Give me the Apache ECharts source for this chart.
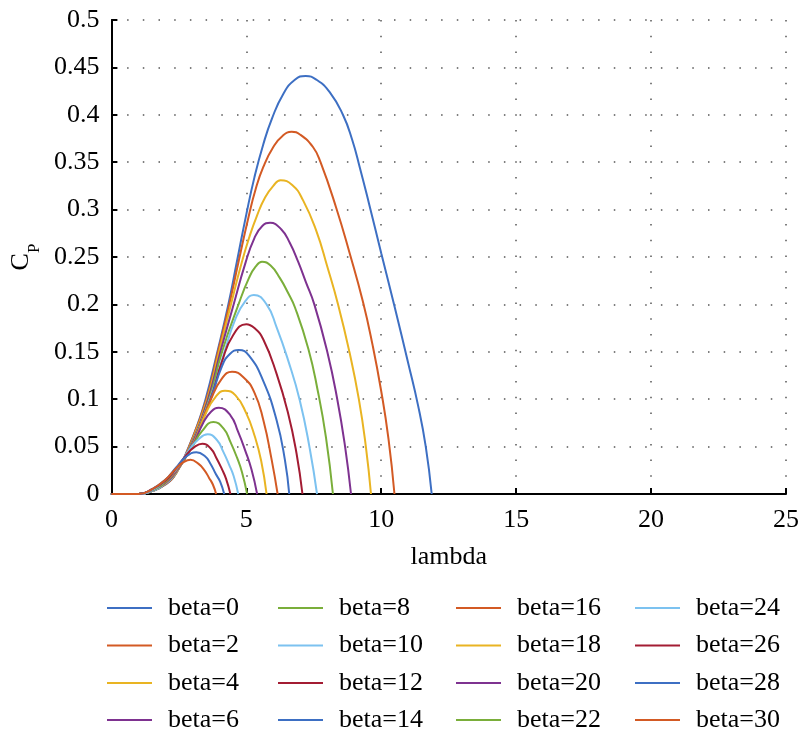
<!DOCTYPE html>
<html lang="en">
<head>
  <meta charset="UTF-8">
  <title>Cp - lambda</title>
  <script src="https://cdn.jsdelivr.net/npm/echarts@6/dist/echarts.min.js"></script>
  <style>
    html, body { margin: 0; padding: 0; background: #fff; }
    #chart { width: 802px; height: 731px; }
  </style>
</head>
<body>
  <div id="chart"></div>
<script>
  // [lambda, Cp], one list per pitch angle
  const b0 = [[0,0],[1.0,0],[1.5,0.003],[2.0,0.01],[2.4,0.022],[2.87,0.05],[3.2,0.074],[3.49,0.1],[3.91,0.148],[4.32,0.198],[4.65,0.245],[5.0,0.295],[5.3,0.334],[5.63,0.369],[5.95,0.396],[6.37,0.422],[6.8,0.437],[7.2,0.441],[7.6,0.437],[8.09,0.424],[8.58,0.4],[8.92,0.374],[9.21,0.344],[9.55,0.306],[10.0,0.254],[10.5,0.197],[11.0,0.138],[11.36,0.094],[11.65,0.05],[11.87,0]]
  const b2 = [[0,0],[1.0,0],[1.5,0.003],[2.0,0.01],[2.4,0.022],[2.88,0.05],[3.52,0.1],[3.95,0.15],[4.37,0.2],[4.72,0.246],[5.08,0.292],[5.35,0.322],[5.63,0.345],[6.0,0.366],[6.35,0.378],[6.68,0.382],[7.0,0.379],[7.47,0.366],[7.75,0.35],[8.33,0.302],[8.83,0.254],[9.32,0.203],[9.68,0.157],[9.99,0.11],[10.27,0.058],[10.49,0]]
  const b4 = [[0,0],[1.0,0],[1.5,0.003],[2.0,0.011],[2.4,0.022],[2.9,0.05],[3.55,0.1],[3.99,0.15],[4.43,0.2],[4.81,0.242],[5.1,0.27],[5.4,0.294],[5.7,0.313],[6.0,0.325],[6.27,0.331],[6.7,0.326],[7.1,0.31],[7.6,0.277],[8.0,0.24],[8.4,0.2],[8.82,0.15],[9.17,0.1],[9.43,0.05],[9.62,0]]
  const b6 = [[0,0],[1.0,0],[1.5,0.003],[2.0,0.011],[2.4,0.023],[2.92,0.05],[3.58,0.1],[4.04,0.15],[4.53,0.2],[4.96,0.243],[5.3,0.27],[5.6,0.283],[5.88,0.286],[6.3,0.279],[6.61,0.265],[6.92,0.245],[7.2,0.224],[7.52,0.2],[8.0,0.15],[8.37,0.1],[8.66,0.05],[8.88,0]]
  const b8 = [[0,0],[1.0,0],[1.5,0.003],[2.0,0.011],[2.4,0.023],[2.93,0.05],[3.62,0.1],[4.1,0.15],[4.71,0.2],[5.1,0.228],[5.35,0.24],[5.58,0.245],[5.9,0.241],[6.24,0.228],[6.55,0.212],[6.8,0.197],[7.3,0.153],[7.64,0.11],[7.95,0.06],[8.21,0]]
  const b10 = [[0,0],[1.0,0],[1.5,0.003],[2.0,0.011],[2.4,0.023],[2.94,0.05],[3.65,0.1],[4.19,0.15],[4.6,0.185],[4.95,0.203],[5.28,0.21],[5.75,0.2],[6.12,0.176],[6.55,0.141],[6.98,0.099],[7.35,0.048],[7.62,0]]
  const b12 = [[0,0],[1.0,0],[1.5,0.004],[2.0,0.012],[2.4,0.024],[2.95,0.05],[3.67,0.1],[4.1,0.14],[4.5,0.167],[5.0,0.179],[5.3,0.175],[5.63,0.163],[6.12,0.127],[6.55,0.085],[6.86,0.043],[7.08,0]]
  const b14 = [[0,0],[1.0,0],[1.5,0.004],[2.0,0.012],[2.4,0.024],[2.96,0.05],[3.68,0.1],[4.1,0.135],[4.4,0.148],[4.72,0.152],[5.1,0.146],[5.63,0.119],[6.12,0.078],[6.43,0.036],[6.59,0]]
  const b16 = [[0,0],[1.0,0],[1.5,0.004],[2.0,0.012],[2.4,0.024],[2.97,0.05],[3.69,0.1],[4.1,0.122],[4.47,0.129],[4.9,0.123],[5.3,0.107],[5.63,0.078],[5.94,0.036],[6.16,0]]
  const b18 = [[0,0],[1.0,0],[1.5,0.004],[2.0,0.013],[2.4,0.025],[2.98,0.05],[3.5,0.085],[3.85,0.102],[4.21,0.109],[4.6,0.104],[5.0,0.085],[5.3,0.062],[5.55,0.035],[5.75,0]]
  const b20 = [[0,0],[1.0,0],[1.5,0.004],[2.0,0.013],[2.4,0.025],[2.99,0.05],[3.4,0.075],[3.7,0.087],[3.98,0.091],[4.41,0.083],[4.69,0.066],[4.97,0.045],[5.19,0.026],[5.4,0]]
  const b22 = [[0,0],[1.0,0],[1.5,0.004],[2.0,0.013],[2.4,0.026],[3.0,0.05],[3.35,0.066],[3.78,0.076],[4.16,0.069],[4.41,0.055],[4.66,0.038],[4.84,0.023],[5.03,0]]
  const b24 = [[0,0],[1.0,0],[1.5,0.004],[2.0,0.014],[2.4,0.026],[2.9,0.047],[3.2,0.057],[3.57,0.063],[3.91,0.057],[4.14,0.045],[4.36,0.031],[4.53,0.019],[4.7,0]]
  const b26 = [[0,0],[1.0,0],[1.5,0.005],[2.0,0.014],[2.4,0.027],[2.8,0.042],[3.05,0.049],[3.37,0.053],[3.68,0.048],[3.89,0.038],[4.1,0.026],[4.25,0.016],[4.41,0]]
  const b28 = [[0,0],[1.0,0],[1.5,0.005],[2.0,0.015],[2.4,0.028],[2.75,0.039],[3.15,0.044],[3.46,0.04],[3.67,0.032],[3.87,0.021],[4.03,0.013],[4.18,0]]
  const b30 = [[0,0],[1.0,0],[1.5,0.005],[2.0,0.015],[2.4,0.027],[2.65,0.033],[2.93,0.036],[3.22,0.032],[3.45,0.025],[3.62,0.017],[3.76,0.01],[3.88,0]]

  const betas = [0, 2, 4, 6, 8, 10, 12, 14, 16, 18, 20, 22, 24, 26, 28, 30]
  const curves = [b0, b2, b4, b6, b8, b10, b12, b14, b16, b18, b20, b22, b24, b26, b28, b30]
  const palette = ['#3d6fc3', '#d35a24', '#e9b422', '#7e3290', '#7aae3a', '#7cc2f0', '#a31c33']

  const font = 'Liberation Serif'
  const names = betas.map(b => 'beta=' + b)

  let chart = echarts.init(document.getElementById('chart'))

  // legend: 4 columns x 4 rows, filled column by column
  const colLeft = [107, 278, 456, 635]
  const rowTop = [595, 632.5, 670, 707]
  let legends = names.map((n, k) => ({
    left: colLeft[Math.floor(k / 4)],
    top: rowTop[k % 4],
    padding: 0,
    icon: 'rect',
    itemWidth: 45,
    itemHeight: 2,
    data: [n],
    textStyle: { fontFamily: font, fontSize: 26, color: '#000', padding: [0, 0, 0, 11] }
  }))

  chart.setOption({
    animation: false,
    color: palette,
    grid: { left: 107, right: 16, top: 20, bottom: 237 },
    legend: legends,
    xAxis: {
      type: 'value',
      min: 0, max: 25, interval: 5,
      name: 'lambda',
      nameLocation: 'middle',
      nameGap: 50,
      nameTextStyle: { fontFamily: font, fontSize: 26, color: '#000' },
      axisLine: { lineStyle: { color: '#000', width: 2 } },
      axisTick: { inside: true, length: 6, lineStyle: { color: '#000', width: 2 } },
      axisLabel: { fontFamily: font, fontSize: 26, color: '#000', margin: 13 },
      splitLine: { show: true, lineStyle: { color: '#555', width: 1.5, type: [1.5, 14.2] } }
    },
    yAxis: {
      type: 'value',
      min: 0, max: 0.5, interval: 0.05,
      name: '{c|C}{p|P}',
      nameLocation: 'middle',
      nameRotate: 90,
      nameGap: 60,
      nameTextStyle: {
        color: '#000',
        rich: {
          c: { fontFamily: font, fontSize: 26, lineHeight: 28, verticalAlign: 'top', color: '#000' },
          p: { fontFamily: font, fontSize: 17, lineHeight: 17, padding: [18, 0, 0, 0], verticalAlign: 'top', color: '#000' }
        }
      },
      axisLine: { show: true, lineStyle: { color: '#000', width: 2 } },
      axisTick: { show: true, inside: true, length: 6, lineStyle: { color: '#000', width: 2 } },
      axisLabel: { fontFamily: font, fontSize: 26, color: '#000', margin: 12 },
      splitLine: { show: true, lineStyle: { color: '#555', width: 1.5, type: [1.5, 14.2] } }
    },
    series: curves.map((d, i) => ({
      name: names[i],
      type: 'line',
      data: d,
      smooth: 0.5,
      symbol: 'none',
      lineStyle: { width: 2 }
    }))
  })
</script>
</body>
</html>
